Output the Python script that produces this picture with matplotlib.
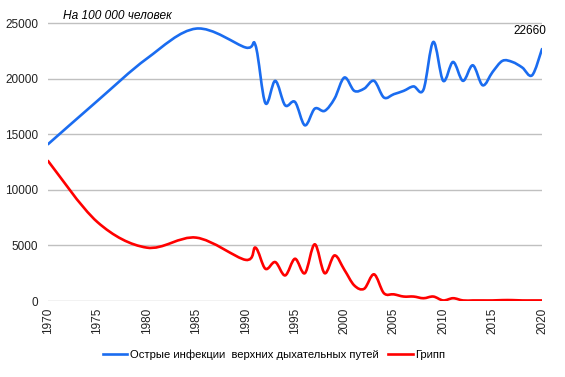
import matplotlib
matplotlib.use("Agg")
import matplotlib.pyplot as plt
from matplotlib.path import Path
from matplotlib.patches import PathPatch
from matplotlib.lines import Line2D

plt.rcParams['font.family'] = ['Liberation Sans', 'DejaVu Sans']

years = [1970, 1975, 1980, 1985, 1990, 1991, 1992, 1993, 1994, 1995, 1996, 1997,
         1998, 1999, 2000, 2001, 2002, 2003, 2004, 2005, 2006, 2007, 2008, 2009,
         2010, 2011, 2012, 2013, 2014, 2015, 2016, 2017, 2018, 2019, 2020]
ari = [14100, 18000, 21800, 24500, 22800, 23000, 17800, 19800, 17600, 17900, 15800, 17300,
       17100, 18200, 20100, 18900, 19100, 19800, 18300, 18600, 18900, 19300, 19000, 23300,
       19800, 21500, 19800, 21200, 19400, 20600, 21600, 21500, 21000, 20300, 22660]
flu = [12600, 7100, 4800, 5700, 3700, 4800, 2900, 3500, 2300, 3800, 2500, 5100,
       2500, 4100, 2800, 1400, 1100, 2400, 700, 600, 400, 400, 250, 400,
       50, 250, 50, 50, 50, 50, 80, 80, 50, 50, 50]
xticks = list(range(1970, 2021, 5))
yticks = [0, 5000, 10000, 15000, 20000, 25000]
labels = ['Острые инфекции  верхних дыхательных путей', 'Грипп']
colors = ['#1a6cf0', '#ff0000']


def smooth_path(xs, ys, s=1.0 / 6):
    n = len(xs)
    pts = list(zip(xs, ys))
    verts = [pts[0]]
    codes = [Path.MOVETO]
    for i in range(n - 1):
        p0 = pts[i - 1] if i > 0 else pts[i]
        p1 = pts[i]
        p2 = pts[i + 1]
        p3 = pts[i + 2] if i + 2 < n else pts[i + 1]
        c1 = (p1[0] + (p2[0] - p0[0]) * s, p1[1] + (p2[1] - p0[1]) * s)
        c2 = (p2[0] - (p3[0] - p1[0]) * s, p2[1] - (p3[1] - p1[1]) * s)
        verts += [c1, c2, p2]
        codes += [Path.CURVE4] * 3
    return Path(verts, codes)


fig = plt.figure(figsize=(5.65, 3.77), dpi=100)
ax = fig.add_axes([48 / 565, 1 - 301 / 377, (542 - 48) / 565, (301 - 5) / 377])
ax.set_xlim(1970, 2020)
ax.set_ylim(0, 25000 + 18 / 11.1 * 1000)

for series, c in zip([ari, flu], colors):
    ax.add_patch(PathPatch(smooth_path(years, series), fill=False, edgecolor=c,
                           lw=1.9, capstyle='round', joinstyle='round', zorder=3))

ax.set_yticks(yticks)
ax.set_xticks(xticks)
ax.set_xticklabels([str(t) for t in xticks], rotation=90)
ax.tick_params(axis='both', length=0, labelsize=8.5, colors='#222222')
ax.tick_params(axis='y', pad=7)
ax.tick_params(axis='x', pad=5)
ax.grid(axis='y', color='#c0c0c0', lw=1)
ax.set_axisbelow(True)
for sp in ax.spines.values():
    sp.set_visible(False)

ax.annotate(str(ari[-1]), xy=(years[-1], ari[-1]), xytext=(-9, 13),
            textcoords='offset points', ha='center', va='center', fontsize=8.5,
            color='#000000')
fig.text(63 / 565, 1 - 16 / 377, 'На 100 000 человек', fontsize=8.6, style='italic',
         ha='left', va='center')

handles = [Line2D([], [], color=c, lw=1.9) for c in colors]
fig.legend(handles, labels, loc='center', bbox_to_anchor=(274 / 565, 1 - 355 / 377),
           ncol=2, frameon=False, fontsize=8.1, handlelength=2.2, handletextpad=0.25,
           columnspacing=0.8)

fig.savefig('out.png', dpi=100)
